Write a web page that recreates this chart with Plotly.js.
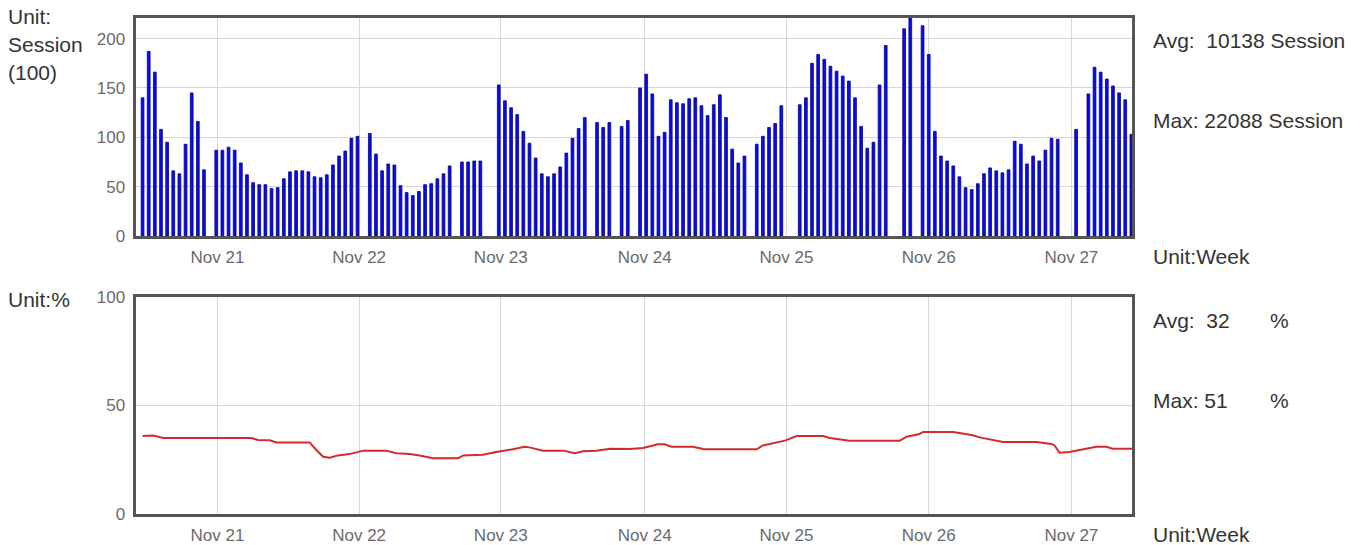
<!DOCTYPE html>
<html>
<head>
<meta charset="utf-8">
<script src="https://cdn.plot.ly/plotly-3.0.1.min.js"></script>
<style>html,body{margin:0;padding:0;background:#fff;}#chart{width:1372px;height:545px;}</style>
</head>
<body>
<div id="chart"></div>
<script>
// Sessions per slot (unit: 100 sessions); null = missing sample
const sessions = [
  140,187,166,108,95,66,63,93,145,116,67,null,
  87,87,90,87,74,62,54,52,52,48,49,58,65,66,66,65,60,59,62,72,81,86,99,101,
  null,104,83,66,73,72,51,44,41,45,52,53,58,63,71,null,75,75,76,76,null,null,
  153,137,130,123,106,94,79,63,60,63,70,84,99,109,120,null,115,110,115,null,111,117,
  null,150,164,144,101,105,138,135,134,139,140,132,122,133,143,120,88,74,81,null,93,101,110,114,132,
  null,null,133,140,175,184,179,172,167,162,157,140,111,89,95,153,193,null,null,210,220.88,null,213,184,
  106,81,76,71,60,49,47,53,63,69,66,64,67,96,93,73,81,76,87,99,98,null,null,108,null,
  144,171,166,159,152,145,138,103
];
// Usage line (%), sampled at slot positions
const usageSlot = [0,1.7,3.4,17.7,18.8,20.7,21.8,27.2,28.3,29.4,30.5,31.8,33.7,35.9,39.7,41.3,43.5,45.1,47.3,51.4,52.2,55.4,57.6,60.3,62.2,63.0,65.2,68.5,70.4,71.7,73.9,76.1,79.3,81.5,83.9,85.0,86.1,89.6,91.5,100.0,101.0,103.2,104.6,106.5,110.8,111.9,115.1,123.3,124.4,126.5,127.1,132.0,133.6,135.2,136.3,137.9,140.1,145.5,148.0,148.5,149.3,150.9,153.1,155.3,156.9,158.0,161.1];
const usagePct  = [35.9,36.2,35.0,35.0,34.1,34.0,33.0,33.0,29.5,26.4,25.9,27.0,27.6,29.2,29.2,28.0,27.6,27.0,25.7,25.7,27.0,27.3,28.6,29.8,31.0,30.7,29.2,29.2,28.0,28.9,29.2,30.1,30.0,30.4,32.1,32.1,31.0,31.0,29.8,29.8,31.6,32.9,33.8,35.9,35.9,35.0,33.8,33.8,35.6,36.9,37.8,37.8,36.9,36.3,35.3,34.4,33.2,33.2,32.3,31.6,28.2,28.6,29.8,31.0,31.0,30.1,30.1];
const dayLabels = ['Nov 21','Nov 22','Nov 23','Nov 24','Nov 25','Nov 26','Nov 27'];
const dayPos    = [12.2,35.26,58.33,81.77,104.84,128.0,151.23];
const sessTicks = [0,50,100,150,200];
const pctTicks  = [0,50,100];
const sessMax = 220.88;

const slots = sessions.map((v,i)=>i);
const W=1372,H=545;
const px=x=>x/W, py=y=>1-y/H;

const FONT='Liberation Sans, Arial, sans-serif';
const frame={showline:true,mirror:true,linecolor:'#555',linewidth:3,zeroline:false,ticks:'',
  gridcolor:'#d6d6d6',gridwidth:1,showgrid:true,tickfont:{family:FONT,size:17,color:'#6a6a6a'}};

const traces=[
  {type:'bar',x:slots,y:sessions,xaxis:'x',yaxis:'y',width:0.45,
   marker:{color:'#0a0af5',line:{color:'#000088',width:0.8}},hoverinfo:'skip'},
  {type:'scatter',mode:'lines',x:usageSlot,y:usagePct,xaxis:'x2',yaxis:'y2',
   line:{color:'#d42a2a',width:2},hoverinfo:'skip'}
];
const xr=[-1.15,161.1];
const layout={
  width:W,height:H,margin:{l:0,r:0,t:0,b:0},paper_bgcolor:'#fff',plot_bgcolor:'#fff',
  showlegend:false,bargap:0,font:{family:FONT},
  xaxis:Object.assign({},frame,{domain:[px(135.5),px(1132)],range:xr,anchor:'y',tickmode:'array',tickvals:dayPos,ticktext:dayLabels,ticklabelstandoff:4}),
  yaxis:Object.assign({},frame,{domain:[py(236),py(18)],range:[0,sessMax],anchor:'x',tickmode:'array',tickvals:sessTicks,ticklabelstandoff:4}),
  xaxis2:Object.assign({},frame,{domain:[px(135.5),px(1132)],range:xr,anchor:'y2',tickmode:'array',tickvals:dayPos,ticktext:dayLabels,ticklabelstandoff:4}),
  yaxis2:Object.assign({},frame,{domain:[py(514),py(297)],range:[0,100],anchor:'x2',tickmode:'array',tickvals:pctTicks,ticklabelstandoff:4}),
  annotations:[]
};
const lab=(t,x,y)=>layout.annotations.push({text:t,x:px(x),y:py(y),xref:'paper',yref:'paper',xanchor:'left',yanchor:'middle',showarrow:false,font:{family:FONT,size:21,color:'#333'}});
lab('Unit:',6,17); lab('Session',6,45); lab('(100)',6,73);
lab('Unit:%',6,299);
lab('Avg:&nbsp; 10138 Session',1151,41);
lab('Max: 22088 Session',1151,121);
lab('Unit:Week',1151,256);
lab('Avg:&nbsp; 32',1151,320); lab('%',1268,320);
lab('Max: 51',1151,400); lab('%',1268,400);
lab('Unit:Week',1151,534);
Plotly.newPlot('chart',traces,layout,{staticPlot:true});
</script>
</body>
</html>
